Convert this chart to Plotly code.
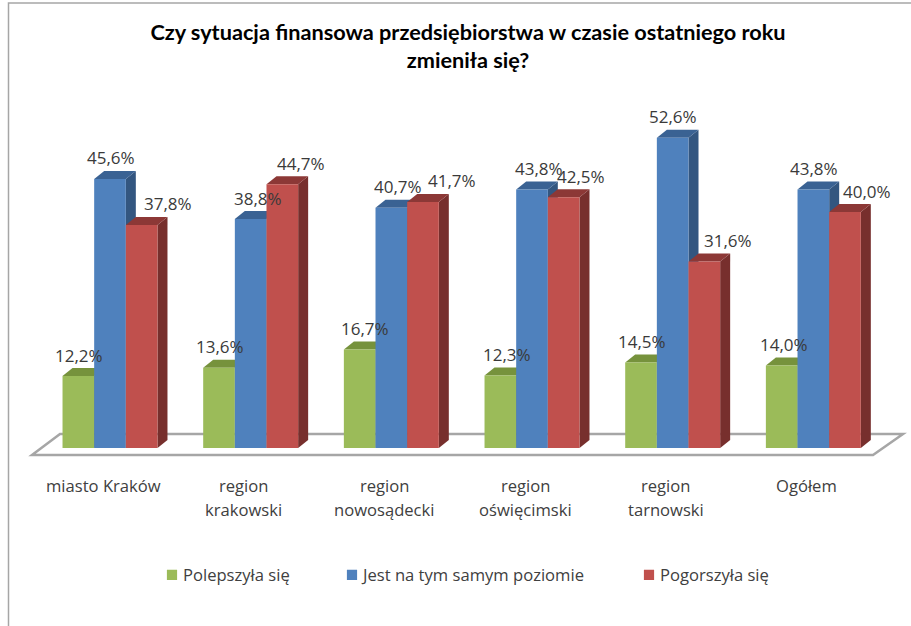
import plotly.graph_objects as go

categories = [["miasto Kraków"], ["region", "krakowski"], ["region", "nowosądecki"],
              ["region", "oświęcimski"], ["region", "tarnowski"], ["Ogółem"]]
series_names = ["Polepszyła się", "Jest na tym samym poziomie", "Pogorszyła się"]
better = [12.2, 13.6, 16.7, 12.3, 14.5, 14.0]
same = [45.6, 38.8, 40.7, 43.8, 52.6, 43.8]
worse = [37.8, 44.7, 41.7, 42.5, 31.6, 40.0]

series = [better, same, worse]
front = ["#9BBB59", "#4F81BD", "#C0504D"]
top_c = ["#76923C", "#3A6293", "#8C3836"]
side_c = ["#66803A", "#335680", "#772F2D"]
label_shift = [[1, 1, 5, 7, 1, 2],
               [1, 7, 7, 7, 0, 1],
               [26, 19, 29, 17, 24, 22]]

W, H = 911, 626
px_x, px_y = 140.67, 5.9       # pixels per category / per percent
X0, Y0 = 110.0, 448.0          # pixel position of the first category and of 0 %
P_L, P_R, P_T, P_B = 12.0, 908.0, 20.0, 470.0   # plot area in pixels


def xd(px):
    return (px - X0) / px_x


def yd(py):
    return (Y0 - py) / px_y


def xp(px):
    return (px - P_L) / (P_R - P_L)


def yp(py):
    return (P_B - py) / (P_B - P_T)


bargap = 0.325
bw = (1 - bargap) / 3
dx = 10 / px_x
dy = 8 / px_y

fig = go.Figure()
legends = ["legend", "legend2", "legend3"]
for k, vals in enumerate(series):
    fig.add_trace(go.Bar(x=list(range(6)), y=vals, name=series_names[k],
                         marker=dict(color=front[k], line=dict(width=0)),
                         legend=legends[k], hoverinfo="x+y"))

shapes = [dict(type="path", xref="x", yref="y", layer="below",
               path=f"M {xd(32)} {yd(455)} L {xd(60)} {yd(434)} "
                    f"L {xd(903)} {yd(434)} L {xd(873)} {yd(455)} Z",
               fillcolor="white", line=dict(color="#A6A6A6", width=2.5))]
annotations = []
for k, vals in enumerate(series):
    for i, v in enumerate(vals):
        x0 = i + (k - 1.5) * bw
        x1 = x0 + bw
        shapes.append(dict(type="path", xref="x", yref="y", layer="below",
                           path=f"M {x1} 0 L {x1 + dx} {dy} L {x1 + dx} {v + dy} L {x1} {v} Z",
                           fillcolor=side_c[k], line=dict(width=0)))
        shapes.append(dict(type="path", xref="x", yref="y", layer="below",
                           path=f"M {x0} {v} L {x0 + dx} {v + dy} L {x1 + dx} {v + dy} L {x1} {v} Z",
                           fillcolor=top_c[k], line=dict(width=0)))
        annotations.append(dict(x=i + (k - 1) * bw, y=v, xref="x", yref="y",
                                text=f"{v:.1f}%".replace(".", ","), showarrow=False,
                                xshift=label_shift[k][i], yshift=21, yanchor="middle",
                                font=dict(family="Open Sans", size=17, color="#3A3A3A")))

for i, lines in enumerate(categories):
    for j, line in enumerate(lines):
        annotations.append(dict(x=i, y=0, xref="x", yref="y", text=line, showarrow=False,
                                xshift=-7, yshift=-37 - 24 * j, yanchor="middle",
                                font=dict(family="Open Sans", size=16.6, color="#404040")))

# frame of the picture
shapes.append(dict(type="path", xref="paper", yref="paper", layer="below",
                   path=f"M {xp(8.5)} {yp(626)} L {xp(8.5)} {yp(3)} L {xp(911)} {yp(3)}",
                   line=dict(color="#A6A6A6", width=1.5)))

leg = dict(orientation="h", xanchor="left", yanchor="middle", bgcolor="rgba(0,0,0,0)",
           font=dict(family="Open Sans", size=16.6, color="#404040"), y=yp(575))
fig.update_layout(
    width=W, height=H, margin=dict(l=P_L, r=W - P_R, t=P_T, b=H - P_B, pad=0),
    paper_bgcolor="white", plot_bgcolor="rgba(0,0,0,0)",
    barmode="group", bargap=bargap, bargroupgap=0,
    title=dict(text="Czy sytuacja finansowa przedsiębiorstwa w czasie ostatniego roku<br>zmieniła się?",
               x=468 / W, xanchor="center", y=1 - 40 / H, yanchor="middle",
               font=dict(family="Lato", size=21.7, color="#000000", weight="bold")),
    xaxis=dict(range=[xd(P_L), xd(P_R)], visible=False),
    yaxis=dict(range=[yd(P_B), yd(P_T)], visible=False),
    shapes=shapes, annotations=annotations, showlegend=True,
    legend=dict(leg, x=xp(184 - 41)),
    legend2=dict(leg, x=xp(364 - 41)),
    legend3=dict(leg, x=xp(661 - 41)),
)
post = """
document.body.style.margin='0';document.body.style.overflow='hidden';
document.querySelectorAll('.legendsymbols').forEach(function(e){e.setAttribute('transform','translate(9,0)');});
document.querySelectorAll('.legendpoints path').forEach(function(e){e.setAttribute('transform','translate(20,0) scale(0.85)');});
"""
fig.write_html("out.html", config={"displayModeBar": False}, post_script=post)
